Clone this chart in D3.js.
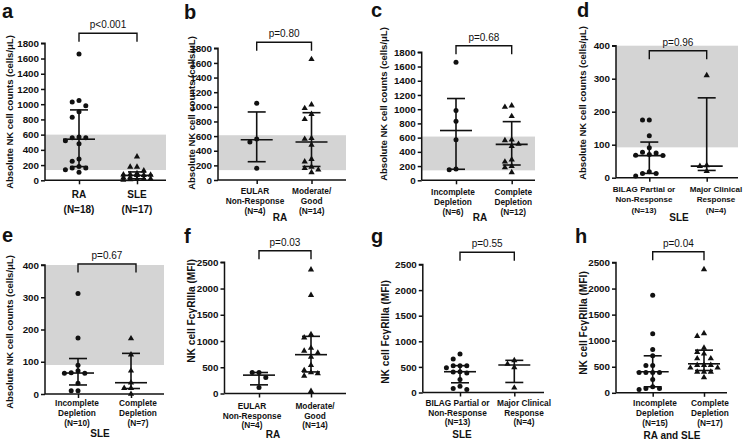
<!DOCTYPE html>
<html><head><meta charset="utf-8">
<script src="https://cdn.jsdelivr.net/npm/d3@7"></script>
<style>
body{margin:0;background:#fff}
svg{display:block}
text{font-family:"Liberation Sans",Arial,Helvetica,sans-serif;fill:#111}
</style>
</head><body>
<svg id="chart" width="747" height="441"></svg>
<script>
// ---------------- DATA ----------------
// Panel a: RA vs SLE, absolute NK counts
const aLabels = [["RA","(N=18)"],["SLE","(N=17)"]];
const aRA  = [1660,1050,1030,980,900,830,570,560,560,520,480,280,250,180,160,160,140,105];
const aSLE = [310,175,175,127,90,77,75,70,68,66,37,35,20,18,13,12,5];
const aMedian = [540,65], aQ1 = [180,20], aQ3 = [925,110];
const aP = "p<0.001";
const aTicks = [0,200,400,600,800,1000,1200,1400,1600,1800];
const aRef = [135,600];

// Panel b: RA by EULAR response
const bLabels = [["EULAR","Non-Response","(N=4)"],["Moderate/","Good","(N=14)"]];
const bEular = [1050,560,520,160];
const bModGood = [1650,1030,980,900,830,570,560,480,285,250,180,160,140,105];
const bMedian = [550,520], bQ1 = [250,185], bQ3 = [930,920];
const bP = "p=0.80";
const bGroup = "RA";
const bTicks = aTicks;
const bRef = [135,612];

// Panel c: RA by depletion
const cLabels = [["Incomplete","Depletion","(N=6)"],["Complete","Depletion","(N=12)"]];
const cIncomplete = [1660,980,830,570,160,150];
const cComplete = [1050,1030,900,570,560,510,480,290,260,200,180,110];
const cMedian = [700,505], cQ1 = [155,215], cQ3 = [1150,825];
const cP = "p=0.68";
const cGroup = "RA";
const cTicks = aTicks;
const cRef = [140,615];

// Panel d: SLE by BILAG response
const dLabels = [["BILAG Partial or","Non-Response","(N=13)"],["Major Clinical","Response","(N=4)"]];
const dBilag = [175,175,127,91,77,75,70,68,67,18,13,13,5];
const dMajor = [310,37,35,20];
const dMedian = [67,35], dQ1 = [13,22], dQ3 = [108,242];
const dP = "p=0.96";
const dGroup = "SLE";
const dTicks = [0,100,200,300,400];
const dRef = [92,400];

// Panel e: SLE by depletion
const eLabels = [["Incomplete","Depletion","(N=10)"],["Complete","Depletion","(N=7)"]];
const eIncomplete = [312,174,89,72,66,64,64,33,10,10];
const eComplete = [172,122,72,35,18,18,0];
const eMedian = [65,35], eQ1 = [28,17], eQ3 = [110,126];
const eP = "p=0.67";
const eGroup = "SLE";
const eTicks = [0,100,200,300,400];
const eRef = [90,400];

// Panel f: RA FcγRIIIa by EULAR response
const fLabels = [["EULAR","Non-Response","(N=4)"],["Moderate/","Good","(N=14)"]];
const fEular = [400,400,304,114];
const fModGood = [2360,1873,1127,1063,867,810,772,696,538,443,400,380,335,44];
const fMedian = [350,740], fQ1 = [165,411], fQ3 = [400,1089];
const fP = "p=0.03";
const fGroup = "RA";
const fTicks = [0,500,1000,1500,2000,2500];

// Panel g: SLE FcγRIIIa by BILAG response
const gLabels = [["BILAG Partial or","Non-Response","(N=13)"],["Major Clinical","Response","(N=4)"]];
const gBilag = [752,654,524,524,524,484,406,400,380,255,124,78,60];
const gMajor = [628,556,490,92];
const gMedian = [406,537], gQ1 = [190,196], gQ3 = [524,628];
const gP = "p=0.55";
const gGroup = "SLE";
const gTicks = fTicks;

// Panel h: RA and SLE FcγRIIIa by depletion
const hLabels = [["Incomplete","Depletion","(N=15)"],["Complete","Depletion","(N=17)"]];
const hIncomplete = [1873,1132,831,710,524,524,390,390,390,390,256,115,83,83,64];
const hComplete = [2366,1138,1087,863,780,748,658,658,530,530,530,480,480,400,400,400,294];
const hMedian = [403,556], hQ1 = [115,428], hQ3 = [710,818];
const hP = "p=0.04";
const hGroup = "RA and SLE";
const hTicks = fTicks;

const yLabelCount = "Absolute NK cell counts (cells/\u03bcL)";
const yLabelMFI = "NK cell Fc\u03b3RIIIa (MFI)";

// ---------------- LAYOUT ----------------
const panels = [
  {letter:"a", lx:2, ly:18, ylab:yLabelCount, ylx:9, yly:112, axisX:45, yTop:43.3, y0:180.3, xRight:166, cats:[79,137], labX:[79,137],
   max:1800, ticks:aTicks, ref:aRef, groups:[aRA,aSLE], med:aMedian, q1:aQ1, q3:aQ3, labels:aLabels, labYs:[194,209], catFont:10,
   p:aP, bracketY:33.3},
  {letter:"b", lx:184, ly:19, ylab:yLabelCount, ylx:191, yly:113, axisX:218, yTop:48.3, y0:180, xRight:346, cats:[256.7,311.5], labX:[255,311.7],
   max:1800, ticks:bTicks, ref:bRef, groups:[bEular,bModGood], med:bMedian, q1:bQ1, q3:bQ3, labels:bLabels, labYs:[190.7,201,211], catFont:8.3,
   group:bGroup, gx:280, gy:217, p:bP, bracketY:42.3},
  {letter:"c", lx:371, ly:17, ylab:yLabelCount, ylx:383, yly:104, axisX:421.7, yTop:52.3, y0:180.3, xRight:535, cats:[456,511.7], labX:[453,513.3],
   max:1800, ticks:cTicks, ref:cRef, groups:[cIncomplete,cComplete], med:cMedian, q1:cQ1, q3:cQ3, labels:cLabels, labYs:[192.3,202,212], catFont:8.3,
   group:cGroup, gx:480, gy:217, p:cP, bracketY:45.7},
  {letter:"d", lx:577, ly:17, ylab:yLabelCount, ylx:582, yly:103, axisX:616, yTop:45.7, y0:177.7, xRight:738, cats:[649.3,706.7], labX:[644,716],
   max:400, ticks:dTicks, ref:dRef, groups:[dBilag,dMajor], med:dMedian, q1:dQ1, q3:dQ3, labels:dLabels, labYs:[189.3,199.7,210.7], catFont:8.1,
   group:dGroup, gx:679, gy:217, p:dP, bracketY:50.7},
  {letter:"e", lx:2, ly:242, ylab:yLabelCount, ylx:9, yly:332, axisX:45, yTop:265, y0:394, xRight:164, cats:[78,131], labX:[77,138],
   max:400, ticks:eTicks, ref:eRef, groups:[eIncomplete,eComplete], med:eMedian, q1:eQ1, q3:eQ3, labels:eLabels, labYs:[403,413,422.5], catFont:8.3,
   group:eGroup, gx:100, gy:433.5, p:eP, bracketY:264, bx:[78,136]},
  {letter:"f", lx:184, ly:243, ylab:yLabelMFI, ylx:191, yly:311, axisX:224.5, yTop:262.3, y0:393.5, xRight:346, cats:[259,311], labX:[252,315],
   max:2500, ticks:fTicks, ref:null, groups:[fEular,fModGood], med:fMedian, q1:fQ1, q3:fQ3, labels:fLabels, labYs:[405.7,415.7,425], catFont:8.3,
   group:fGroup, gx:273, gy:434.5, p:fP, bracketY:250.7},
  {letter:"g", lx:371, ly:243, ylab:yLabelMFI, ylx:385, yly:332, axisX:422.8, yTop:264.5, y0:392.5, xRight:544, cats:[460,514.3], labX:[457.5,524],
   max:2500, ticks:gTicks, ref:null, groups:[gBilag,gMajor], med:gMedian, q1:gQ1, q3:gQ3, labels:gLabels, labYs:[403,412.6,422.4], catFont:8.3,
   group:gGroup, gx:462, gy:434, p:gP, bracketY:252.3},
  {letter:"h", lx:575, ly:243, ylab:yLabelMFI, ylx:583, yly:323, axisX:616, yTop:262.5, y0:392.8, xRight:727, cats:[652.7,704], labX:[655,710],
   max:2500, ticks:hTicks, ref:null, groups:[hIncomplete,hComplete], med:hMedian, q1:hQ1, q3:hQ3, labels:hLabels, labYs:[403.3,413,422.7], catFont:8.3,
   group:hGroup, gx:672, gy:435.5, p:hP, bracketY:251.7}
];

const svg = d3.select("#chart");
const ink = "#111";

function dodge(values, cx, y, spacing, minD, maxOff) {
  const sorted = values.map((v,i)=>({v, i})).sort((a,b)=>b.v-a.v);
  const placed = [];
  sorted.forEach(p => {
    const py = y(p.v);
    let chosen = null, best = null, bestD = -1;
    for (let k = 0; k < 40; k++) {
      const off = k === 0 ? 0 : (k % 2 === 1 ? -Math.ceil(k/2) : Math.ceil(k/2)) * spacing;
      if (Math.abs(off) > maxOff) break;
      const px = cx + off;
      const md = placed.length ? d3.min(placed, q => Math.hypot(q.x-px, q.y-py)) : Infinity;
      if (md >= minD) { chosen = px; break; }
      if (md > bestD) { bestD = md; best = px; }
    }
    placed.push({x: chosen !== null ? chosen : best, y: py, v: p.v});
  });
  return placed;
}

panels.forEach(P => {
  const g = svg.append("g");
  const y = d3.scaleLinear().domain([0, P.max]).range([P.y0, P.yTop]);
  const x = d3.scaleOrdinal().domain([0,1]).range(P.cats);

  // reference band
  if (P.ref) {
    g.append("rect")
      .attr("x", P.axisX).attr("width", P.xRight - P.axisX)
      .attr("y", y(P.ref[1])).attr("height", y(P.ref[0]) - y(P.ref[1]))
      .attr("fill", "#d4d4d4");
  }

  // y axis
  const yAxis = d3.axisLeft(y).tickValues(P.ticks).tickSize(4).tickPadding(2).tickFormat(d3.format("d"));
  const ya = g.append("g").attr("transform", `translate(${P.axisX},0)`).call(yAxis);
  ya.select(".domain").attr("stroke", ink).attr("stroke-width", 1.5).attr("d", `M-4,${P.yTop}H0V${P.y0}`);
  ya.selectAll(".tick line").attr("stroke", ink).attr("stroke-width", 1.5);
  ya.selectAll(".tick text").attr("font-size", 9.8).attr("font-weight", "bold")
    .attr("font-family", '"Liberation Sans",Arial,sans-serif').attr("fill", ink);

  // x axis
  const xs = d3.scalePoint().domain([0,1]).range(P.cats);
  const xAxis = d3.axisBottom(xs).tickSize(4).tickFormat("");
  const xa = g.append("g").attr("transform", `translate(0,${P.y0})`).call(xAxis);
  xa.select(".domain").attr("stroke", ink).attr("stroke-width", 1.5).attr("d", `M${P.axisX},0H${P.xRight}`);
  xa.selectAll(".tick line").attr("stroke", ink).attr("stroke-width", 1.5);

  // points
  P.groups.forEach((vals, gi) => {
    const pts = dodge(vals, x(gi), y, 6.8, 5.4, 20);
    if (gi === 0) {
      g.selectAll(null).data(pts).enter().append("circle")
        .attr("cx", d => d.x).attr("cy", d => d.y).attr("r", 2.5).attr("fill", ink);
    } else {
      const sym = d3.symbol().type(d3.symbolTriangle).size(17);
      g.selectAll(null).data(pts).enter().append("path")
        .attr("d", sym).attr("transform", d => `translate(${d.x},${d.y})`).attr("fill", ink);
    }
    // median + IQR error bars
    const cx = x(gi);
    const eb = g.append("g").attr("stroke", ink).attr("stroke-width", 1.6).attr("fill", "none");
    eb.append("line").attr("x1", cx).attr("x2", cx).attr("y1", y(P.q1[gi])).attr("y2", y(P.q3[gi]));
    eb.append("line").attr("x1", cx-16).attr("x2", cx+16).attr("y1", y(P.med[gi])).attr("y2", y(P.med[gi]));
    eb.append("line").attr("x1", cx-9).attr("x2", cx+9).attr("y1", y(P.q1[gi])).attr("y2", y(P.q1[gi]));
    eb.append("line").attr("x1", cx-9).attr("x2", cx+9).attr("y1", y(P.q3[gi])).attr("y2", y(P.q3[gi]));
  });

  // category labels
  P.labels.forEach((lines, gi) => {
    lines.forEach((ln, li) => {
      g.append("text").attr("x", P.labX[gi]).attr("y", P.labYs[li])
        .attr("text-anchor", "middle").attr("dominant-baseline", "central")
        .attr("font-size", P.catFont).attr("font-weight", "bold").text(ln);
    });
  });
  if (P.group) {
    g.append("text").attr("x", P.gx).attr("y", P.gy).attr("text-anchor", "middle")
      .attr("dominant-baseline", "central").attr("font-size", 10).attr("font-weight", "bold").text(P.group);
  }

  // bracket + p
  const bxs = P.bx || P.cats;
  const bx1 = bxs[0], bx2 = bxs[1], by = P.bracketY;
  g.append("path").attr("d", `M${bx1},${by+8.5}V${by}H${bx2}V${by+8.5}`)
    .attr("stroke", ink).attr("stroke-width", 1.4).attr("fill", "none");
  g.append("text").attr("x", (bx1+bx2)/2).attr("y", by - 5).attr("text-anchor", "middle")
    .attr("font-size", 10).text(P.p);

  // y label
  g.append("text").attr("transform", `translate(${P.ylx},${P.yly}) rotate(-90)`)
    .attr("text-anchor", "middle").attr("dominant-baseline", "central")
    .attr("font-size", P.max === 2500 ? 10.2 : 9.5).attr("font-weight", "bold").text(P.ylab);

  // panel letter
  g.append("text").attr("x", P.lx).attr("y", P.ly).attr("font-size", 20).attr("font-weight", "bold").text(P.letter);
});
</script>
</body></html>
